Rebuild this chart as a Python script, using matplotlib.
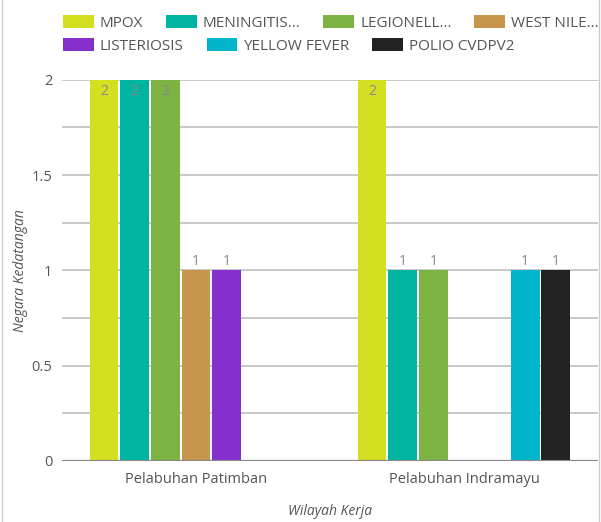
import matplotlib.pyplot as plt
from matplotlib.lines import Line2D
from matplotlib.patches import Patch
import numpy as np

plt.rcParams['font.family'] = ['Open Sans', 'DejaVu Sans']

# data
wilayah = ['Pelabuhan Patimban', 'Pelabuhan Indramayu']
penyakit = ['MPOX', 'MENINGITIS...', 'LEGIONELL...', 'WEST NILE...',
            'LISTERIOSIS', 'YELLOW FEVER', 'POLIO CVDPV2']
nilai = [
    [2, 2],   # MPOX
    [2, 1],   # MENINGITIS
    [2, 1],   # LEGIONELL
    [1, 0],   # WEST NILE
    [1, 0],   # LISTERIOSIS
    [0, 1],   # YELLOW FEVER
    [0, 1],   # POLIO CVDPV2
]
warna = ['#d5df22', '#00b5a0', '#7cb342', '#c6964d', '#8530cc', '#00b5cc', '#222222']

fig = plt.figure(figsize=(6.01, 5.22), dpi=100)
ax = fig.add_axes([0.103, 0.117, 0.892, 0.730])

x = np.arange(len(wilayah))
slot = 0.8 / len(penyakit)
for i, (nama, vals) in enumerate(zip(penyakit, nilai)):
    pos = x - 0.4 + slot * (i + 0.5)
    ax.bar(pos, vals, width=slot * 0.94, color=warna[i], zorder=3)
    for p, v in zip(pos, vals):
        if v == 0:
            continue
        if v >= 2:
            ax.text(p, v - 0.02, str(v), ha='center', va='top', fontsize=10, color='#888888', zorder=4)
        else:
            ax.text(p, v + 0.005, str(v), ha='center', va='bottom', fontsize=10, color='#888888', zorder=4)

ax.set_xlim(-0.5, 1.5)
ax.set_ylim(0, 2)
ax.set_xticks(x)
ax.set_xticklabels(wilayah, fontsize=10.5, color='#555555')
ax.set_yticks([0, 0.5, 1, 1.5, 2])
ax.set_yticklabels(['0', '0.5', '1', '1.5', '2'], fontsize=10.5, color='#555555')
for y in np.arange(0.25, 2.01, 0.25):
    ax.axhline(y, color='#c8c8c8', lw=1.4, zorder=1)
ax.axhline(0, color='#888888', lw=1.6, zorder=4)
ax.tick_params(length=0, pad=7)
ax.tick_params(axis='x', pad=8)
for s in ax.spines.values():
    s.set_visible(False)

ax.set_ylabel('Negara Kedatangan', fontsize=10, style='italic', color='#555555', va='center')
ax.set_xlabel('Wilayah Kerja', fontsize=10, style='italic', color='#555555', va='center')
ax.yaxis.set_label_coords(-0.078, 0.5)
ax.xaxis.set_label_coords(0.5, -0.134)

# legend in two rows
def handles(idx):
    return [Patch(facecolor=warna[i], label=penyakit[i]) for i in idx]

opts = dict(loc='center left', frameon=False, fontsize=11, handlelength=2.0, handleheight=0.9,
            columnspacing=1.5, handletextpad=0.4, labelcolor='#555555', borderpad=0, borderaxespad=0)
leg1 = fig.legend(handles=handles(range(4)), ncol=4, bbox_to_anchor=(0.105, 1 - 23 / 522), **opts)
leg2 = fig.legend(handles=handles(range(4, 7)), ncol=3, bbox_to_anchor=(0.105, 1 - 46 / 522), **opts)

# thin frame at sides
fig.add_artist(Line2D([0.004, 0.004], [0, 1], color='#cccccc', lw=1, transform=fig.transFigure))
fig.add_artist(Line2D([0.997, 0.997], [0, 1], color='#cccccc', lw=1, transform=fig.transFigure))

fig.savefig('out.png', dpi=100)
